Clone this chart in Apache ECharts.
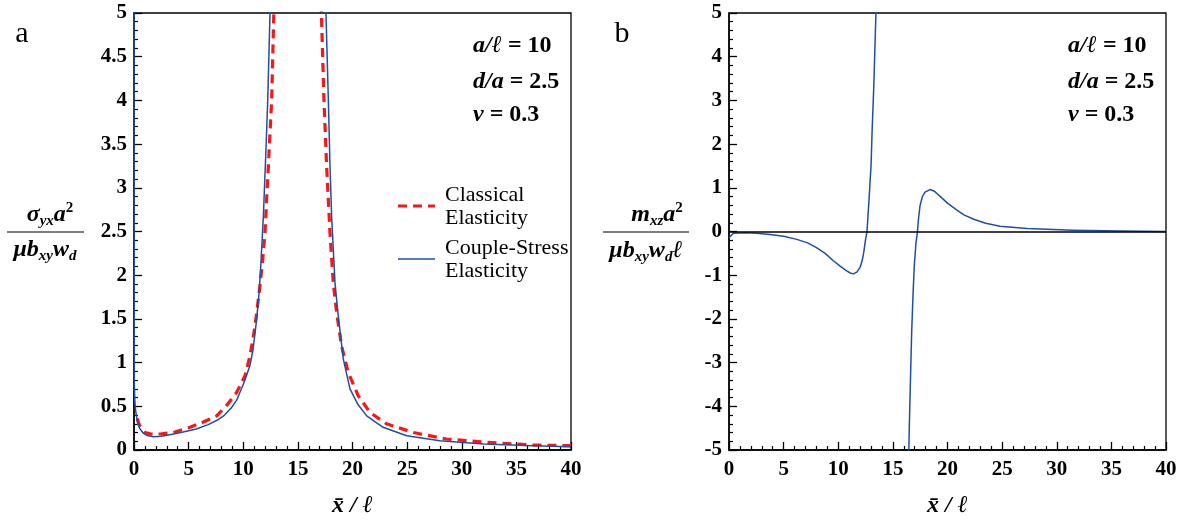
<!DOCTYPE html>
<html><head><meta charset="utf-8">
<script src="https://cdn.jsdelivr.net/npm/echarts@6/dist/echarts.min.js"></script>
<style>html,body{margin:0;padding:0;background:#fff}#c{width:1184px;height:523px}</style>
</head><body><div id="c"></div>
<script>
// ---- Panel a: sigma_yx a^2 / (mu b_xy w_d) vs x/l ----
// Couple-stress elasticity (blue), branch left of the singular zone
const coupleA_left = [[0,6],[0.03,0.75],[0.08,0.55],[0.15,0.45],[0.3,0.33],[0.5,0.25],[0.8,0.2],[1.2,0.165],[1.8,0.152],[2.5,0.158],[3.5,0.18],[4.5,0.205],[5.7,0.24],[6.8,0.29],[7.6,0.34],[8.2,0.39],[8.9,0.48],[9.4,0.57],[9.7,0.66],[10.1,0.78],[10.6,0.96],[10.9,1.15],[11.23,1.5],[11.45,1.8],[11.6,2.1],[11.84,2.67],[12.08,3.44],[12.24,4.0],[12.45,5.0],[12.6,5.8]];
// Couple-stress elasticity (blue), branch right of the singular zone
const coupleA_right = [[17.35,6],[17.57,5.0],[17.79,4.0],[17.94,3.25],[18.09,2.67],[18.4,1.91],[18.7,1.53],[19.16,1.04],[19.77,0.7],[20.5,0.52],[21.3,0.39],[22.8,0.26],[24.96,0.163],[28,0.106],[32,0.068],[36.5,0.05],[40,0.038]];
// Classical elasticity (red dashed)
const classicalA_left = [[0.3,0.36],[0.5,0.28],[1.0,0.2],[1.5,0.185],[1.92,0.18],[2.5,0.185],[3.6,0.2],[5.13,0.26],[6.35,0.32],[7.57,0.39],[8.48,0.51],[9.4,0.66],[10.16,0.85],[10.62,1.08],[10.98,1.34],[11.23,1.57],[11.53,1.88],[11.78,2.18],[11.99,2.48],[12.14,2.87],[12.3,3.25],[12.45,3.63],[12.6,4.0],[12.8,5.0],[12.9,5.6]];
const classicalA_right = [[17.0,5.8],[17.15,5.0],[17.39,4.0],[17.63,3.25],[17.94,2.48],[18.24,1.91],[18.55,1.57],[19.0,1.19],[19.6,0.89],[20.53,0.62],[21.6,0.43],[23.1,0.3],[25.57,0.2],[28.6,0.126],[32.3,0.088],[36.5,0.057],[40,0.049]];

// ---- Panel b: m_xz a^2 / (mu b_xy w_d l) vs x/l ----
const coupleB_left = [[0,-0.14],[0.4,-0.04],[1.5,-0.03],[2.5,-0.04],[3.75,-0.07],[5,-0.11],[6.2,-0.18],[7.2,-0.26],[8.0,-0.37],[8.8,-0.5],[9.55,-0.67],[10.2,-0.8],[10.77,-0.9],[11.1,-0.95],[11.38,-0.97],[11.7,-0.93],[12.0,-0.82],[12.2,-0.66],[12.35,-0.45],[12.5,-0.18],[12.63,0],[12.82,0.74],[13.0,1.5],[13.1,2.3],[13.25,3.3],[13.45,5.0],[13.55,6.0]];
const coupleB_right = [[16.4,-6],[16.46,-5],[16.5,-4.5],[16.6,-3.5],[16.72,-2.31],[16.85,-1.4],[16.96,-0.79],[17.1,-0.3],[17.25,0],[17.35,0.3],[17.48,0.58],[17.7,0.8],[17.94,0.9],[18.4,0.96],[18.8,0.92],[19.3,0.81],[20.0,0.65],[20.8,0.5],[21.5,0.38],[22.4,0.28],[23.5,0.19],[24.8,0.12],[27.3,0.07],[31.5,0.03],[36,0.01],[40,0.0]];

const xRange = [0, 40, 5];
const yRangeA = [0, 5, 0.5];
const yRangeB = [-5, 5, 1];
const legendNames = [['Classical','Elasticity'],['Couple-Stress','Elasticity']];
const params = [['a/ℓ',' = 10'],['d/a',' = 2.5'],['ν',' = 0.3']];

const FONT = '"Liberation Serif", "Times New Roman", serif';
const BLUE = '#1c4fa6';
const RED = '#ff1414';

function xAxisCfg(gi){
  return {
    gridIndex: gi, type:'value', min:xRange[0], max:xRange[1], interval:xRange[2],
    name:'x\u0304 / ℓ', nameLocation:'middle', nameGap:44,
    nameTextStyle:{fontFamily:FONT, fontStyle:'italic', fontWeight:'bold', fontSize:24, color:'#000'},
    axisLine:{show:true, onZero:false, lineStyle:{color:'#000', width:1.5}},
    axisTick:{show:true, inside:true, length:8, lineStyle:{color:'#000', width:1.3}},
    minorTick:{show:true, splitNumber:5, length:4, lineStyle:{color:'#000', width:1.2}},
    axisLabel:{fontFamily:FONT, fontWeight:'bold', fontSize:21, color:'#000', margin:9},
    splitLine:{show:false}
  };
}
function yAxisCfg(gi, r){
  return {
    gridIndex: gi, type:'value', min:r[0], max:r[1], interval:r[2],
    axisLine:{show:true, onZero:false, lineStyle:{color:'#000', width:1.5}},
    axisTick:{show:true, inside:true, length:8, lineStyle:{color:'#000', width:1.3}},
    minorTick:{show:true, splitNumber:5, length:4, lineStyle:{color:'#000', width:1.2}},
    axisLabel:{fontFamily:FONT, fontWeight:'bold', fontSize:21, color:'#000', margin:7},
    splitLine:{show:false}
  };
}
function lineSeries(data, xi, color, dashed){
  return {
    type:'line', xAxisIndex:xi, yAxisIndex:xi, data:data, showSymbol:false, symbol:'none',
    clip:true, animation:false, z: dashed ? 3 : 4,
    lineStyle:{color:color, width: dashed ? 3.2 : 1.5, type: dashed ? [9,6] : 'solid', join:'round'}
  };
}

const mainRich = {fontFamily:FONT, fontStyle:'italic', fontWeight:'bold', fontSize:24, lineHeight:28, verticalAlign:'middle', fill:'#000', color:'#000'};
const subRich = {fontFamily:FONT, fontStyle:'italic', fontWeight:'bold', fontSize:15, lineHeight:13, verticalAlign:'bottom', fill:'#000', color:'#000'};
const supRich = {fontFamily:FONT, fontWeight:'bold', fontSize:15, lineHeight:13, verticalAlign:'top', fill:'#000', color:'#000'};
const fracRich = {m:mainRich, s:subRich, p:supRich};

function richText(txt, x, y, align){
  return {type:'text', x:x, y:y, z:10, style:{text:txt, rich:fracRich, align:align||'center', verticalAlign:'middle', textAlign:align||'center', textVerticalAlign:'middle', fill:'#000'}};
}
function hline(x1,x2,y,color,w,dash){
  return {type:'line', z:10, shape:{x1:x1,y1:y,x2:x2,y2:y}, style:{stroke:color, lineWidth:w, lineDash:dash||null}};
}
function plainText(txt, x, y, font, align){
  return {type:'text', x:x, y:y, z:10, style:{text:txt, font:font, fill:'#000', align:align||'left', verticalAlign:'middle', textAlign:align||'left', textVerticalAlign:'middle'}};
}
function paramText(p, x, y){
  return {type:'text', x:x, y:y, z:10, style:{text:'{i|'+p[0]+'}{n|'+p[1]+'}', align:'left', verticalAlign:'middle', textAlign:'left', textVerticalAlign:'middle',
    rich:{i:{fontFamily:FONT, fontStyle:'italic', fontWeight:'bold', fontSize:24, fill:'#000', color:'#000'}, n:{fontFamily:FONT, fontWeight:'bold', fontSize:24, fill:'#000', color:'#000'}}}};
}

const graphics = [
  plainText('a', 22, 34, '30px '+FONT, 'center'),
  plainText('b', 622, 34, '30px '+FONT, 'center'),
  // y-axis title, panel a
  richText('{m|σ}{s|yx}{m|a}{p|2}', 50, 215),
  hline(7, 84, 232, '#000', 1.2),
  richText('{m|μb}{s|xy}{m|w}{s|d}', 45, 250),
  // y-axis title, panel b
  richText('{m|m}{s|xz}{m|a}{p|2}', 657, 215),
  hline(603, 689, 232, '#000', 1.2),
  richText('{m|μb}{s|xy}{m|w}{s|d}{m|ℓ}', 646, 251),
  // legend panel a
  hline(398, 435, 206, RED, 3.2, [9,6]),
  plainText(legendNames[0][0], 445, 195, '22px '+FONT),
  plainText(legendNames[0][1], 445, 218, '22px '+FONT),
  hline(398, 435, 259, BLUE, 1.5),
  plainText(legendNames[1][0], 445, 248, '22px '+FONT),
  plainText(legendNames[1][1], 445, 271, '22px '+FONT)
];
const paramY = [46, 82, 115];
params.forEach((p,i)=>{ graphics.push(paramText(p, 473, paramY[i])); graphics.push(paramText(p, 1068, paramY[i])); });

const chart = echarts.init(document.getElementById('c'), null, {renderer:'canvas'});
chart.setOption({
  backgroundColor:'#fff',
  animation:false,
  grid:[
    {left:134, top:13, width:437, height:438, show:true, borderColor:'#000', borderWidth:1.3, backgroundColor:'transparent'},
    {left:729, top:13, width:437, height:438, show:true, borderColor:'#000', borderWidth:1.3, backgroundColor:'transparent'}
  ],
  xAxis:[xAxisCfg(0), xAxisCfg(1)],
  yAxis:[yAxisCfg(0, yRangeA), yAxisCfg(1, yRangeB)],
  series:[
    lineSeries(classicalA_left, 0, RED, true),
    lineSeries(classicalA_right, 0, RED, true),
    lineSeries(coupleA_left, 0, BLUE, false),
    lineSeries(coupleA_right, 0, BLUE, false),
    Object.assign(lineSeries(coupleB_left, 1, BLUE, false), {
      markLine:{silent:true, symbol:['none','none'], label:{show:false}, animation:false,
        lineStyle:{color:'#000', width:1.5, type:'solid'}, data:[{yAxis:0}]}
    }),
    lineSeries(coupleB_right, 1, BLUE, false)
  ],
  graphic: graphics
});
</script>
</body></html>
